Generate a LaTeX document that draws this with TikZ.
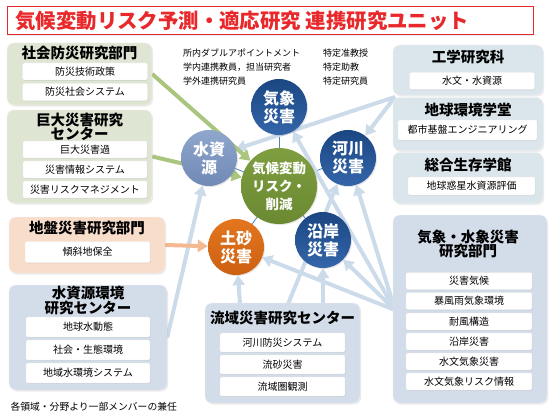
\documentclass[tikz,border=0pt]{standalone}
\usepackage{fontspec}
\setmainfont{Noto Sans CJK JP}
\usepackage{xcolor}
\usetikzlibrary{arrows.meta,positioning,shadows,backgrounds}
\definecolor{titlered} {HTML}{E8282B}
\definecolor{greenbox} {HTML}{DFE5D3}
\definecolor{peachbox} {HTML}{F8DDCB}
\definecolor{bluebox}  {HTML}{D3DCE9}
\definecolor{cyanbox}  {HTML}{DBE5EC}
\definecolor{arrblue}  {HTML}{CCDBEA}
\definecolor{arrgreen} {HTML}{A9C57E}
\definecolor{arrorange}{HTML}{F4B990}
\definecolor{spoke}    {HTML}{4F81BD}
\definecolor{navytop}  {HTML}{1B4682}
\definecolor{navybot}  {HTML}{3466AA}
\definecolor{steeltop} {HTML}{8FA7CC}
\definecolor{steelbot} {HTML}{7089B6}
\definecolor{olivetop} {HTML}{7F9E40}
\definecolor{olivebot} {HTML}{6A8931}
\definecolor{rusttop}  {HTML}{E4761F}
\definecolor{rustbot}  {HTML}{CC6011}
\tikzset{
  grpbox/.style    ={rounded corners=7pt, draw=black!6, line width=0.4pt,
                     drop shadow={shadow xshift=1.2pt, shadow yshift=-1.5pt, opacity=0.15}},
  grptitle/.style  ={align=center, inner sep=0pt, font=\fontsize{14.5}{14.5}\selectfont\bfseries},
  itembox/.style   ={fill=white, draw=black!8, line width=0.3pt, rounded corners=1.5pt,
                     minimum width=125pt, minimum height=17pt, inner sep=0pt,
                     font=\fontsize{10}{11}\selectfont,
                     drop shadow={shadow xshift=0.6pt, shadow yshift=-0.8pt, opacity=0.15}},
  circ/.style      ={circle, minimum size=56pt, inner sep=0pt, text=white, align=center,
                     font=\fontsize{16}{18}\selectfont\bfseries,
                     drop shadow={shadow xshift=1pt, shadow yshift=-1pt, opacity=0.2}},
  bluearr/.style   ={-{Triangle[length=10pt,width=12pt]}, line width=4pt, draw=arrblue},
  greenarr/.style  ={-{Triangle[length=10pt,width=12pt]}, line width=4pt, draw=arrgreen},
  orangearr/.style ={-{Triangle[length=10pt,width=12pt]}, line width=4pt, draw=arrorange},
  spokeline/.style ={line width=0.8pt, draw=spoke},
}

\begin{document}
\begin{tikzpicture}[x=1pt,y=-1pt]
    \useasboundingbox (0,0) rectangle (557,420);

    % ----- title -----
    \node[draw=titlered,fill=white,line width=1pt,minimum width=526pt,minimum height=28pt,
          drop shadow={shadow xshift=1pt, shadow yshift=-1pt, opacity=0.15}] (titlebox) at (270,21) {};
    \node[anchor=west,text=titlered,font=\fontsize{20.4}{21}\selectfont\bfseries] (title) at (12,21)
      {気候変動リスク予測・適応研究 連携研究ユニット};

    % ----- left column -----
    \node[grpbox,fill=greenbox,minimum width=145pt,minimum height=62pt] (shakai) at (79.5,74) {};
    \node[grptitle] (shakaiT) at (79.5,53) {社会防災研究部門};
    \node[itembox] (shakai1) at (85,71.5) {防災技術政策};
    \node[itembox] (shakai2) at (85,92) {防災社会システム};

    \node[grpbox,fill=greenbox,minimum width=145pt,minimum height=93pt] (kyodai) at (79.5,156.5) {};
    \node[grptitle] (kyodaiT) at (79.5,127) {巨大災害研究\\センター};
    \node[itembox,minimum width=124pt] (kyodai1) at (85,149.5) {巨大災害過};
    \node[itembox,minimum width=124pt] (kyodai2) at (85,169.5) {災害情報システム};
    \node[itembox,minimum width=124pt] (kyodai3) at (85,189.5) {災害リスクマネジメント};

    \node[grpbox,fill=peachbox,minimum width=156pt,minimum height=56pt] (jiban) at (87,245) {};
    \node[grptitle] (jibanT) at (87,228) {地盤災害研究部門};
    \node[itembox,minimum height=21pt] (jiban1) at (87.5,252) {傾斜地保全};

    \node[grpbox,fill=bluebox,minimum width=158pt,minimum height=105pt] (mizu) at (88,337.5) {};
    \node[grptitle] (mizuT) at (88,300.5) {水資源環境\\研究センター};
    \node[itembox,minimum width=124pt,minimum height=20pt] (mizu1) at (88,327) {地球水動態};
    \node[itembox,minimum width=124pt,minimum height=20pt] (mizu2) at (88,350) {社会・生態環境};
    \node[itembox,minimum width=124pt,minimum height=20pt] (mizu3) at (88,373) {地域水環境システム};

    \node[anchor=west,font=\fontsize{9.8}{11}\selectfont] (note) at (7,407) {各領域・分野より一部メンバーの兼任};

    % ----- staff notes -----
    \node[anchor=north west,align=left,inner sep=0pt,font=\fontsize{9}{14}\selectfont] (staffA) at (183,49)
      {所内ダブルアポイントメント\\学内連携教員，担当研究者\\学外連携研究員};
    \node[anchor=north west,align=left,inner sep=0pt,font=\fontsize{9}{14}\selectfont] (staffB) at (323,49)
      {特定准教授\\特定助教\\特定研究員};

    % ----- right column -----
    \node[grpbox,fill=cyanbox,minimum width=150pt,minimum height=50pt] (kogaku) at (468,70) {};
    \node[grptitle] (kogakuT) at (468,57) {工学研究科};
    \node[itembox] (kogaku1) at (472,81) {水文・水資源};

    \node[grpbox,fill=cyanbox,minimum width=150pt,minimum height=53pt] (chikyu) at (468,124) {};
    \node[grptitle] (chikyuT) at (468,110) {地球環境学堂};
    \node[itembox,minimum width=139pt,minimum height=20pt] (chikyu1) at (467.5,130) {都市基盤エンジニアリング};

    \node[grpbox,fill=cyanbox,minimum width=150pt,minimum height=51pt] (sogo) at (468,178) {};
    \node[grptitle] (sogoT) at (468,165) {総合生存学館};
    \node[itembox,minimum width=127pt,minimum height=18pt] (sogo1) at (471.5,186) {地球惑星水資源評価};

    \node[grpbox,fill=bluebox,minimum width=154pt,minimum height=188pt] (kishoG) at (470,309) {};
    \node[grptitle] (kishoT) at (468,244) {気象・水象災害\\研究部門};
    \node[itembox,minimum width=126pt] (kishoG1) at (469,281) {災害気候};
    \node[itembox,minimum width=126pt] (kishoG2) at (469,301) {暴風雨気象環境};
    \node[itembox,minimum width=126pt] (kishoG3) at (469,321.5) {耐風構造};
    \node[itembox,minimum width=126pt] (kishoG4) at (469,341.5) {沿岸災害};
    \node[itembox,minimum width=126pt] (kishoG5) at (469,361.5) {水文気象災害};
    \node[itembox,minimum width=126pt] (kishoG6) at (469,381.5) {水文気象リスク情報};

    % ----- bottom centre -----
    \node[grpbox,fill=bluebox,minimum width=155pt,minimum height=100pt] (ryuiki) at (282.5,353) {};
    \node[grptitle] (ryuikiT) at (282.5,318) {流域災害研究センター};
    \node[itembox,minimum height=19pt] (ryuiki1) at (282.5,342.5) {河川防災システム};
    \node[itembox,minimum height=19pt] (ryuiki2) at (282.5,364.5) {流砂災害};
    \node[itembox,minimum height=19pt] (ryuiki3) at (282.5,386.5) {流域圏観測};

    % ----- circles -----
    \node[circ,minimum size=76pt,top color=olivetop,bottom color=olivebot,
          font=\fontsize{13.5}{18}\selectfont\bfseries] (kikou) at (279,186) {気候変動\\リスク・\\削減};
    \node[circ,top color=navytop,bottom color=navybot]   (kisho)     at (279,107) {気象\\災害};
    \node[circ,top color=navytop,bottom color=navybot]   (kasen)     at (348,158) {河川\\災害};
    \node[circ,top color=navytop,bottom color=navybot]   (engan)     at (323,240) {沿岸\\災害};
    \node[circ,top color=rusttop,bottom color=rustbot]   (dosha)     at (236,247) {土砂\\災害};
    \node[circ,top color=steeltop,bottom color=steelbot] (suishigen) at (209,158) {水資\\源};

    % fan points
    \coordinate (fanR) at (395,97);
    \coordinate (fanB) at (395,310);
    \coordinate (ry1) at (240,304);
    \coordinate (ry2) at (288,304);
    \coordinate (ry3) at (323,304);

    \begin{scope}[on background layer]
      \fill[white] (0,0) rectangle (557,420);
      \draw[spokeline] (kikou.center) -- (kisho.center);
      \draw[spokeline] (kikou.center) -- (kasen.center);
      \draw[spokeline] (kikou.center) -- (engan.center);
      \draw[spokeline] (kikou.center) -- (dosha.center);
      \draw[spokeline] (kikou.center) -- (suishigen.center);

      \draw[bluearr] (fanR) -- (suishigen);
      \draw[bluearr] (fanR) -- (kasen);
      \draw[bluearr] (fanB) -- (kisho);
      \draw[bluearr] (fanB) -- (kasen);
      \draw[bluearr] (fanB) -- (engan);
      \draw[bluearr] (fanB) -- (dosha);
      \draw[bluearr] (ry1) -- (dosha);
      \draw[bluearr] (ry2) -- (kasen);
      \draw[bluearr] (ry3) -- (engan);
      \draw[bluearr] (mizu.east) -- (suishigen);

      \draw[greenarr] (shakai.east) -- (kikou);
      \draw[greenarr] (kyodai.east) -- (kikou);
      \draw[orangearr] (jiban.east) -- (dosha);
    \end{scope}
  \end{tikzpicture}
\end{document}
